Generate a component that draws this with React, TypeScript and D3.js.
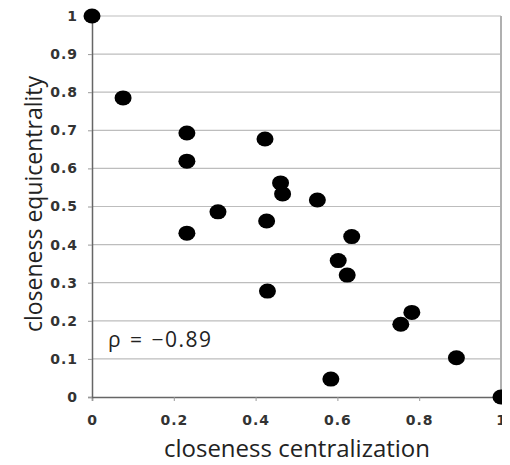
import React, { useEffect, useRef } from "react";
import * as d3 from "d3";

// closeness centralization (x) vs closeness equicentrality (y)
const centralization = [
  0, 0.076, 0.232, 0.232, 0.308, 0.232, 0.423, 0.461, 0.466, 0.551, 0.427,
  0.635, 0.602, 0.624, 0.429, 0.782, 0.755, 0.891, 0.584, 1,
];
const equicentrality = [
  1, 0.785, 0.693, 0.619, 0.486, 0.43, 0.677, 0.562, 0.533, 0.517, 0.462,
  0.421, 0.358, 0.32, 0.278, 0.222, 0.191, 0.103, 0.047, 0,
];
const xTicks = [0, 0.2, 0.4, 0.6, 0.8, 1];
const yTicks = [0, 0.1, 0.2, 0.3, 0.4, 0.5, 0.6, 0.7, 0.8, 0.9, 1];

const App = () => {
  const svgRef = useRef<SVGSVGElement>(null);

  useEffect(() => {
    const svg = d3.select(svgRef.current);
    svg.selectAll("*").remove();

    const w = 510;
    const h = 465;
    const left = 92;
    const right = 501;
    const top = 16;
    const bottom = 397;

    svg.attr("width", w).attr("height", h).style("background", "#fff");

    const x = d3.scaleLinear().domain([0, 1]).range([left, right]);
    const y = d3.scaleLinear().domain([0, 1]).range([bottom, top]);

    // grid lines
    svg
      .append("g")
      .selectAll("line")
      .data(yTicks.slice(1))
      .join("line")
      .attr("x1", left)
      .attr("x2", right)
      .attr("y1", (d) => y(d))
      .attr("y2", (d) => y(d))
      .attr("stroke", "#bdbdbd")
      .attr("stroke-width", 1.2);

    // right border
    svg
      .append("line")
      .attr("x1", right)
      .attr("x2", right)
      .attr("y1", top)
      .attr("y2", bottom)
      .attr("stroke", "#b0b0b0")
      .attr("stroke-width", 2);

    const tickFont = "'DejaVu Sans', sans-serif";

    const styleTicks = (g) => {
      g.select(".domain").attr("stroke", "#666").attr("stroke-width", 1.5);
      g.selectAll(".tick line").attr("stroke", "#999");
      g.selectAll(".tick text")
        .attr("fill", "#333")
        .style("font-family", tickFont)
        .style("font-size", "14px")
        .style("font-weight", "bold")
        .style("letter-spacing", "1px");
    };

    // x axis
    const xAxis = d3
      .axisBottom(x)
      .tickValues(xTicks)
      .tickSize(4)
      .tickPadding(14)
      .tickFormat((d) => d3.format("")(d as number));
    svg
      .append("g")
      .attr("transform", `translate(0,${bottom})`)
      .call(xAxis)
      .call(styleTicks);

    // y axis
    const yAxis = d3
      .axisLeft(y)
      .tickValues(yTicks)
      .tickSize(4)
      .tickPadding(10)
      .tickFormat((d) => d3.format("")(d as number));
    svg
      .append("g")
      .attr("transform", `translate(${left},0)`)
      .call(yAxis)
      .call(styleTicks);

    // points
    const pts = centralization.map((c, i) => [c, equicentrality[i]]);
    svg
      .append("g")
      .selectAll("ellipse")
      .data(pts)
      .join("ellipse")
      .attr("cx", (d) => x(d[0]))
      .attr("cy", (d) => y(d[1]))
      .attr("rx", 8.5)
      .attr("ry", 7.5)
      .attr("fill", "#000");

    const titleFont = "'Open Sans', 'Noto Sans', sans-serif";

    // axis titles
    svg
      .append("text")
      .attr("x", 297)
      .attr("y", 457)
      .attr("text-anchor", "middle")
      .style("font-family", titleFont)
      .style("font-size", "24px")
      .attr("fill", "#222")
      .text("closeness centralization");

    svg
      .append("text")
      .attr("transform", `translate(42,204) rotate(-90)`)
      .attr("text-anchor", "middle")
      .style("font-family", titleFont)
      .style("font-size", "23px")
      .attr("fill", "#222")
      .text("closeness equicentrality");

    // correlation label
    svg
      .append("text")
      .attr("x", 108)
      .attr("y", 347)
      .style("font-family", titleFont)
      .style("font-size", "21px")
      .style("letter-spacing", "1.5px")
      .style("word-spacing", "1px")
      .attr("fill", "#222")
      .text("ρ = −0.89");
  }, []);

  return <svg ref={svgRef} style={{ display: "block", margin: "-8px" }}></svg>;
};

export default App;
